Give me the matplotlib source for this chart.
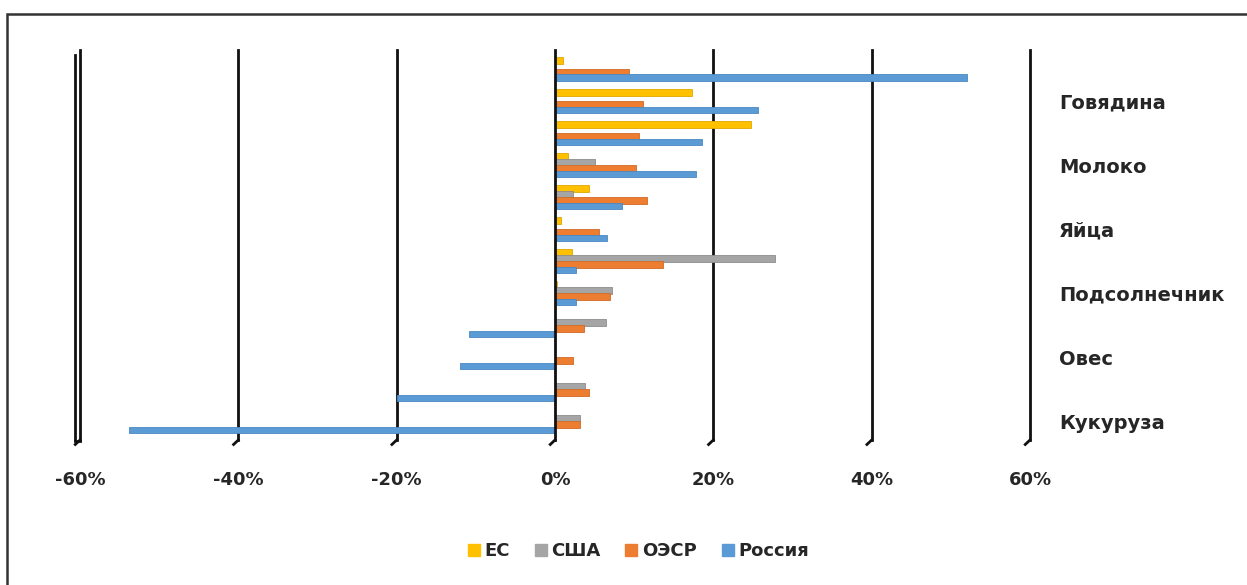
import matplotlib
matplotlib.use("Agg")
import matplotlib.pyplot as plt
import numpy as np
from matplotlib.patches import Rectangle
from matplotlib.lines import Line2D

# ---- data (bottom to top) ----
categories = ['Кукуруза', '', 'Овес', '', 'Подсолнечник', '', 'Яйца', '', 'Молоко', '', 'Говядина', '']
series_names = ['ЕС', 'США', 'ОЭСР', 'Россия']
eu     = [0.0, 0.0, 0.0, 0.0, 0.2, 2.1, 0.8, 4.3, 1.6, 24.7, 17.3, 1.0]
usa    = [3.2, 3.8, 0.0, 6.4, 7.2, 27.8, 0.0, 2.3, 5.1, 0.0, 0.0, 0.0]
oecd   = [3.2, 4.3, 2.3, 3.7, 6.9, 13.7, 5.6, 11.6, 10.2, 10.6, 11.1, 9.3]
russia = [-53.8, -20.0, -12.0, -10.9, 2.6, 2.7, 6.6, 8.4, 17.8, 18.6, 25.7, 52.0]
x_ticks = [-60, -40, -20, 0, 20, 40, 60]

colors = ['#FFC000', '#A5A5A5', '#ED7D31', '#5B9BD5']
edges = ['#E0A800', '#8C8C8C', '#D06A25', '#4A88C2']

W, H = 1247, 585
fig = plt.figure(figsize=(W / 100, H / 100), dpi=100)
fig.patch.set_facecolor('white')

# outer frame
fig.patches.append(Rectangle((7 / W, -0.1), 1.2, (585 - 14) / H + 0.1, transform=fig.transFigure,
                             fill=False, edgecolor='#333333', linewidth=1.8, zorder=0))

left, right, top, bottom = 80, 1030, 50, 440
ax = fig.add_axes([left / W, 1 - bottom / H, (right - left) / W, (bottom - top) / H])
ax.set_xlim(-60, 60)
ax.set_ylim(-0.58, 11.6)
for s in ax.spines.values():
    s.set_visible(False)

y = np.arange(len(categories))
offsets = [0.27, 0.09, -0.09, -0.27]
bh = 0.21
for vals, off, c, e, name in zip([eu, usa, oecd, russia], offsets, colors, edges, series_names):
    ax.barh(y + off, vals, height=bh, color=c, edgecolor=e, linewidth=0.6, label=name, zorder=3)

# gridlines with small 3D hook
for xt in x_ticks:
    ax.axvline(xt, color='#111111', linewidth=2.0, zorder=2 if xt != 0 else 4, clip_on=False)
    ax.plot([xt, xt - 0.6], [-0.58, -0.72], color='#111111', linewidth=2.0, clip_on=False, zorder=2)
ax.plot([-60.6, -60.6], [-0.58, 11.45], color='#111111', linewidth=2.0, clip_on=False, zorder=2)
ax.plot([-60.6, -60], [-0.62, -0.62], color='#111111', linewidth=2.0, clip_on=False)

font = {'family': 'DejaVu Sans', 'size': 13, 'weight': 'bold'}
ax.set_xticks(x_ticks)
ax.set_xticklabels([f'{v}%' for v in x_ticks], color='#262626', **font)
ax.tick_params(axis='x', length=0, pad=22)

ax.yaxis.tick_right()
ax.set_yticks(y[::2])
ax.set_yticklabels(categories[::2], color='#262626', family='DejaVu Sans', size=14, weight='bold')
ax.tick_params(axis='y', length=0, pad=21)

handles = [Line2D([0], [0], marker='s', linestyle='', markersize=8, markerfacecolor=c,
                  markeredgecolor=c) for c in colors]
fig.legend(handles, series_names, loc='center', bbox_to_anchor=(637 / W, 1 - 551 / H), ncol=4,
           frameon=False, handletextpad=0.1, columnspacing=1.2, handlelength=1.0,
           prop=font, labelcolor='#262626')

fig.savefig('out.png', dpi=100, facecolor='white')
